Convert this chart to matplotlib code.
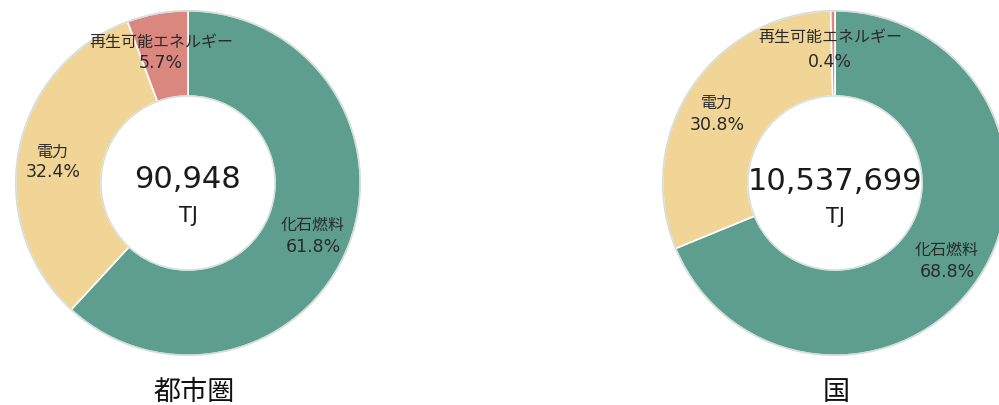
import matplotlib
matplotlib.use("Agg")
import matplotlib.pyplot as plt
from matplotlib.patches import Circle

plt.rcParams['font.family'] = ['Noto Sans CJK JP', 'DejaVu Sans']

categories = ["化石燃料", "電力", "再生可能エネルギー"]
titles = ["都市圏", "国"]
totals = ["90,948", "10,537,699"]
unit = "TJ"
shares_metro = [61.8, 32.4, 5.7]
shares_nation = [68.8, 30.8, 0.4]
colors = ["#5d9e8f", "#f1d596", "#d9877f"]

W, H = 999, 405
fig = plt.figure(figsize=(W / 100, H / 100), dpi=100)
fig.patch.set_facecolor("white")

R = 174  # outer radius in px

def make_ax(cx, cy):
    ax = fig.add_axes([(cx - R) / W, (H - cy - R) / H, 2 * R / W, 2 * R / H])
    ax.set_xlim(-1, 1)
    ax.set_ylim(-1, 1)
    ax.set_aspect("equal")
    ax.axis("off")
    return ax

def px2d(cx, cy, px, py):
    return (px - cx) / R, (cy - py) / R

panels = [
    dict(c=(188, 183), shares=shares_metro, title=titles[0], total=totals[0],
         lab=[(313, 225, 247), (53, 152, 172), (161, 42, 63)],
         tot_y=180, unit_y=216, title_xy=(194, 392)),
    dict(c=(835, 183), shares=shares_nation, title=titles[1], total=totals[1],
         lab=[(947, 250, 272), (717, 103, 125), (830, 38, 62)],
         tot_y=182, unit_y=217, title_xy=(836, 392)),
]

txtc = "#2a2a2a"
numfont = ['DejaVu Sans', 'Noto Sans CJK JP']
for p in panels:
    cx, cy = p["c"]
    ax = make_ax(cx, cy)
    ax.pie(p["shares"], colors=colors, startangle=90, counterclock=False,
           radius=0.99, wedgeprops=dict(width=0.49, edgecolor="white", linewidth=1.2))
    ax.add_patch(Circle((0, 0), 0.99, fill=False, edgecolor="#c9d6d3", linewidth=1.2, alpha=0.8))
    ax.add_patch(Circle((0, 0), 0.50, fill=False, edgecolor="#c9d6d3", linewidth=1.0, alpha=0.8))
    ax.set_xlim(-1, 1)
    ax.set_ylim(-1, 1)
    for (lx, ly1, ly2), name, v in zip(p["lab"], categories, p["shares"]):
        x, y = px2d(cx, cy, lx, ly1)
        ax.text(x, y, name, ha="center", va="center", fontsize=11.5, color=txtc)
        x, y = px2d(cx, cy, lx, ly2)
        ax.text(x, y, f"{v}%", ha="center", va="center", fontsize=12.5,
                color=txtc, family=numfont)
    x, y = px2d(cx, cy, cx, p["tot_y"])
    ax.text(x, y, p["total"], ha="center", va="center", fontsize=22,
            color="#1a1a1a", family=numfont)
    x, y = px2d(cx, cy, cx, p["unit_y"])
    ax.text(x, y, unit, ha="center", va="center", fontsize=15,
            color="#1a1a1a", family=numfont)
    tx, ty = p["title_xy"]
    fig.text(tx / W, 1 - ty / H, p["title"], ha="center", va="center",
             fontsize=19.5, color="#111111")

fig.savefig("out.png", dpi=100, facecolor="white")
